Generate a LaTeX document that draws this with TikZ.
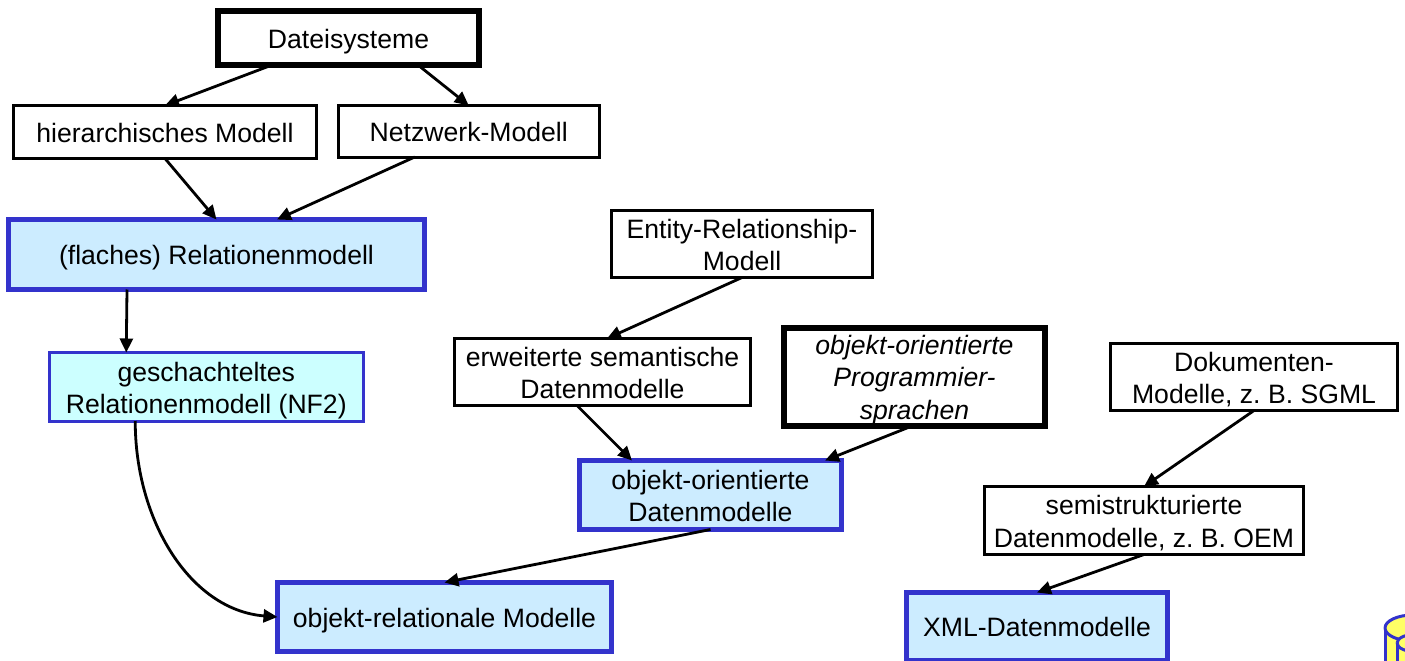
\documentclass[tikz,border=0pt]{standalone}
\usepackage{fontspec}
\setmainfont{Liberation Sans}
\usetikzlibrary{arrows.meta}
\definecolor{bblue}{HTML}{3333CC}
\definecolor{lblue}{HTML}{CCECFF}
\definecolor{lcyan}{HTML}{CCFFFF}
\definecolor{yy}{HTML}{FFFF66}
\frenchspacing
\tikzset{
 x=1pt,y=-1pt,
 base/.style={anchor=center,inner sep=0pt,outer sep=0pt,font=\fontsize{26.6}{32.4}\selectfont,text=black},
 plainbox/.style={base,draw=black,fill=white,line width=3pt},
 heavybox/.style={base,draw=black,fill=white,line width=6pt},
 modelbox/.style={base,draw=bblue,fill=lblue,line width=5pt},
 nestbox/.style={base,draw=bblue,fill=lcyan,line width=3pt},
 conn/.style={draw=black,line width=2.8pt,-{Triangle[length=14pt,width=13pt]}},
}
\newcommand{\tx}[2]{\raisebox{-#1}[\height][\depth]{\begin{tabular}{@{}c@{}}#2\end{tabular}}}
\newcommand{\bx}[8]{% style,name,x0,y0,x1,y1,down shift,text
 \pgfmathsetmacro{\cxx}{(#3+#5)/2}\pgfmathsetmacro{\cyy}{(#4+#6)/2}%
 \pgfmathsetmacro{\wdd}{#5-#3}\pgfmathsetmacro{\htt}{#6-#4}%
 \node[#1,minimum width=\wdd pt,minimum height=\htt pt] (#2) at (\cxx,\cyy) {\tx{#7}{#8}};}
\begin{document}
\begin{tikzpicture}
\useasboundingbox (0,0) rectangle (1405,661);
\begin{scope}
\clip (0,0) rectangle (1405,661);
\draw[fill=yy,draw=bblue,line width=3pt] (1385,628) -- (1385,670) -- (1420,670) -- (1420,628);
\draw[fill=yy,draw=bblue,line width=3pt] (1385,628) arc[start angle=180,end angle=0,x radius=28,y radius=13] arc[start angle=0,end angle=-180,x radius=28,y radius=13];
\draw[fill=yy,draw=bblue,line width=3pt] (1397,643) -- (1397,670) -- (1425,670) -- (1425,643);
\draw[fill=yy,draw=bblue,line width=3pt] (1397,643) arc[start angle=180,end angle=0,x radius=20,y radius=9] arc[start angle=0,end angle=-180,x radius=20,y radius=9];
\end{scope}
\bx{heavybox}{dat}{218}{11}{479}{65}{4pt}{Dateisysteme}
\bx{plainbox}{hier}{13.5}{105.5}{316.5}{158.5}{4pt}{hierarchisches Modell}
\bx{plainbox}{netz}{338.5}{105.5}{599}{157}{4pt}{Netzwerk-Modell}
\bx{modelbox}{rel}{8.5}{219.5}{424.5}{289.5}{4pt}{(flaches) Relationenmodell}
\bx{nestbox}{nest}{49.5}{352.5}{363}{421}{4pt}{geschachteltes\\Relationenmodell (NF2)}
\bx{plainbox}{er}{611.5}{210.5}{872.5}{277.5}{4pt}{Entity-Relationship-\\Modell}
\bx{plainbox}{erw}{454.5}{338.5}{750.5}{405.5}{4pt}{erweiterte semantische\\Datenmodelle}
\bx{heavybox}{prog}{784}{328}{1045}{426}{3.5pt}{\itshape objekt-orientierte\\\itshape Programmier-\\\itshape sprachen}
\bx{plainbox}{dok}{1110.5}{343.5}{1397.5}{410.5}{4pt}{Dokumenten-\\Modelle, z. B. SGML}
\bx{modelbox}{oo}{579.5}{460.5}{841.5}{529.5}{4pt}{objekt-orientierte\\Datenmodelle}
\bx{plainbox}{semi}{984.5}{486.5}{1303.5}{554.5}{4pt}{semistrukturierte\\Datenmodelle, z. B. OEM}
\bx{modelbox}{orel}{277.5}{582.5}{611.5}{651.5}{4pt}{objekt-relationale Modelle}
\bx{modelbox}{xml}{906.5}{592.5}{1167.5}{660}{4pt}{XML-Datenmodelle}
\draw[conn] ([xshift=-76.5pt]dat.south) -- (hier.north);
\draw[conn] ([xshift=69.5pt]dat.south) -- (netz.north);
\draw[conn] (hier.south) -- (rel.north);
\draw[conn] ([xshift=-54pt]netz.south) -- ([xshift=60.5pt]rel.north);
\draw[conn] ([xshift=-89.5pt]rel.south) -- ([xshift=-80pt]nest.north);
\draw[conn] ([xshift=-71pt]nest.south) .. controls (135,520) and (190,610) .. (orel.west);
\draw[conn] (er.south) -- ([xshift=4.5pt]erw.north);
\draw[conn] ([xshift=-25.5pt]erw.south) -- ([xshift=-78.5pt]oo.north);
\draw[conn] ([xshift=-2.5pt]prog.south) -- ([xshift=114.5pt]oo.north);
\draw[conn] (oo.south) -- (orel.north);
\draw[conn] (dok.south) -- (semi.north);
\draw[conn] (semi.south) -- (xml.north);
\end{tikzpicture}
\end{document}
